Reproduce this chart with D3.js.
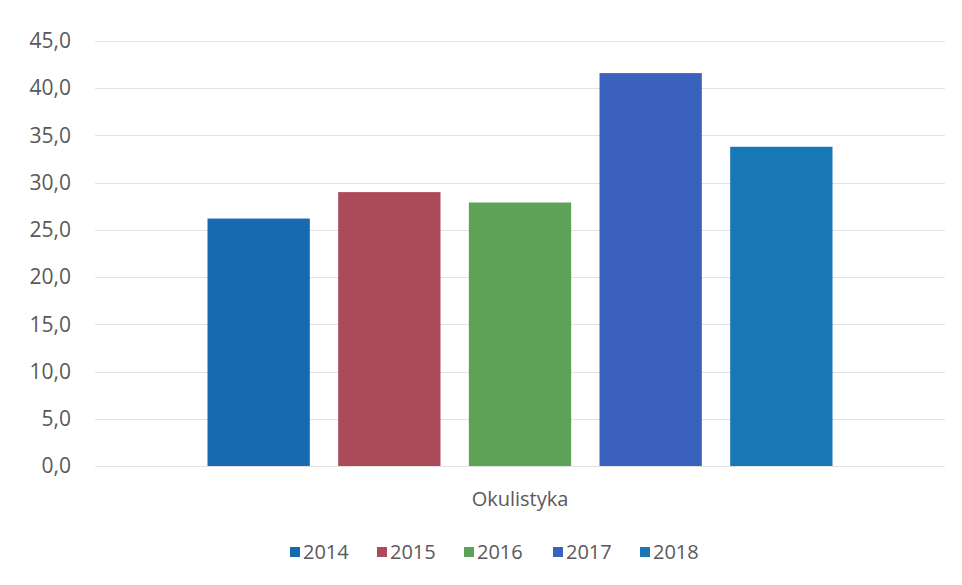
<!DOCTYPE html>
<html>
<head>
<meta charset="utf-8">
<script src="https://cdn.jsdelivr.net/npm/d3@7"></script>
<style>
  html, body { margin: 0; padding: 0; background: #ffffff; }
  svg { display: block; }
  text { font-family: "Open Sans", "Liberation Sans", sans-serif; fill: #595959; }
</style>
</head>
<body>
<svg id="chart" width="962" height="585"></svg>
<script>
// Single category, one bar per year
const category = "Okulistyka";
const years = ["2014", "2015", "2016", "2017", "2018"];
const values = [26.2, 29.0, 27.9, 41.6, 33.8];
const colors = ["#1769b0", "#ad4a5a", "#5ea258", "#3a62bc", "#1877b6"];
const yTicks = [0, 5, 10, 15, 20, 25, 30, 35, 40, 45];

const svg = d3.select("#chart");
const margin = { left: 95, right: 17, top: 41, bottom: 119 };
const W = 962, H = 585;
const plotW = W - margin.left - margin.right;
const plotH = H - margin.top - margin.bottom;

const g = svg.append("g").attr("transform", `translate(${margin.left},${margin.top})`);

const y = d3.scaleLinear().domain([0, 45]).range([plotH, 0]);
const x0 = d3.scaleBand().domain([category]).range([0, plotW]).paddingInner(0).paddingOuter(0.18);
const x1 = d3.scaleBand().domain(years).range([0, x0.bandwidth()]).paddingInner(0.217).paddingOuter(0);

// Horizontal gridlines
g.append("g")
  .selectAll("line")
  .data(yTicks)
  .join("line")
  .attr("x1", 0)
  .attr("x2", plotW)
  .attr("y1", d => Math.round(y(d)) + 0.5)
  .attr("y2", d => Math.round(y(d)) + 0.5)
  .attr("stroke", "#e3e3e3")
  .attr("stroke-width", 1);

// Y axis labels
const fmt = d => d.toFixed(1).replace(".", ",");
const yAxis = d3.axisLeft(y).tickValues(yTicks).tickFormat(fmt).tickSize(0).tickPadding(24);
const ya = g.append("g").call(yAxis);
ya.select(".domain").remove();
ya.selectAll("text")
  .style("font-size", "21px")
  .style("fill", "#595959")
  .style("font-family", '"Open Sans", "Liberation Sans", sans-serif');

// Bars
const grp = g.append("g").attr("transform", `translate(${x0(category)},0)`);
grp.selectAll("rect")
  .data(years.map((yr, i) => ({ yr, v: values[i], c: colors[i] })))
  .join("rect")
  .attr("x", d => x1(d.yr))
  .attr("width", x1.bandwidth())
  .attr("y", d => y(d.v))
  .attr("height", d => plotH - y(d.v))
  .attr("fill", d => d.c);

// Category label
g.append("text")
  .attr("x", x0(category) + x0.bandwidth() / 2)
  .attr("y", plotH + 40)
  .attr("text-anchor", "middle")
  .style("font-size", "20px")
  .text(category);

// Legend
const legendX = [290, 377, 464, 553, 640];
const lg = svg.append("g").attr("transform", "translate(0,552)");
const items = lg.selectAll("g")
  .data(years.map((yr, i) => ({ yr, c: colors[i], x: legendX[i] })))
  .join("g")
  .attr("transform", d => `translate(${d.x},0)`);
items.append("rect")
  .attr("x", 0).attr("y", -5)
  .attr("width", 10).attr("height", 10)
  .attr("fill", d => d.c);
items.append("text")
  .attr("x", 13).attr("y", 7)
  .style("font-size", "20px")
  .text(d => d.yr);
</script>
</body>
</html>
